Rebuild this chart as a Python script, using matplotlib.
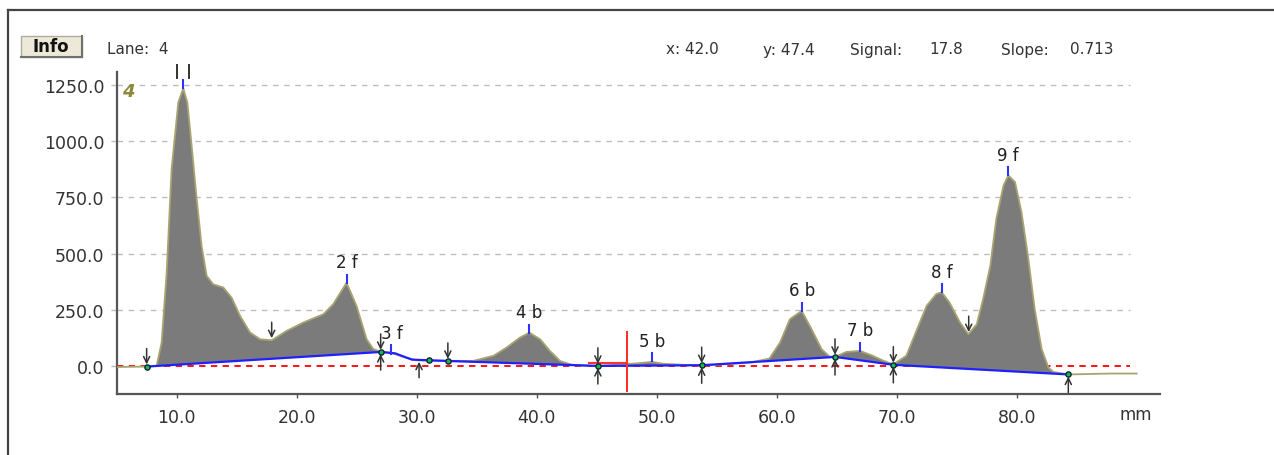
import numpy as np
import matplotlib.pyplot as plt
from matplotlib.patches import Rectangle
from matplotlib.lines import Line2D

plt.rcParams["font.family"] = ["DejaVu Sans"]

# lane 4 densitometry profile (mm, signal)
TRACE_MM = [4.9, 7.5, 8.33, 8.75, 9.17, 9.58, 10.14, 10.55, 10.89, 11.25, 11.67,
            12.08, 12.5, 13.05, 13.89, 14.58, 15.28, 16.11, 16.94, 17.92, 19.17,
            20.55, 22.22, 23.05, 24.16, 24.99, 25.83, 26.39, 27.03, 27.9, 28.9,
            30.0, 31.0, 32.6, 34.7, 36.4, 37.5, 38.6, 39.4, 40.3, 41.1, 41.95,
            43.05, 45.1, 47.5, 48.5, 49.6, 50.5, 52.2, 53.75, 55.0, 57.8, 59.4,
            60.28, 61.1, 62.08, 62.9, 63.75, 64.4, 64.86, 65.8, 66.94, 68.0,
            68.9, 69.72, 70.8, 71.7, 72.5, 73.3, 73.75, 74.4, 75.28, 75.97,
            76.67, 77.2, 77.8, 78.3, 78.9, 79.3, 79.86, 80.4, 80.97, 81.5,
            82.08, 82.64, 83.05, 84.3, 87.8, 90.0]
TRACE_VAL = [-5, -3, 0, 104, 416, 876, 1173, 1235, 1173, 980, 742,
             535, 401, 363, 349, 304, 223, 149, 119, 114, 156,
             193, 230, 275, 370, 267, 119, 75, 63, 58, 40,
             25, 24, 23, 22, 45, 82, 126, 148, 118, 67, 22,
             3, 0, 8, 12, 18, 10, 5, 2, 5, 15, 33,
             104, 208, 245, 164, 74, 42, 40, 62, 67, 45,
             23, 7, 45, 164, 268, 320, 328, 282, 193, 141,
             185, 297, 446, 654, 803, 848, 818, 684, 476, 253,
             75, -7, -27, -38, -34, -34]

# baseline (blue) and its anchor points
BASE_MM = [7.5, 27.0, 28.2, 29.6, 31.0, 32.6, 45.1, 53.75, 64.86, 69.72, 84.3]
BASE_VAL = [-3, 62, 56, 28, 25, 22, 0, 3, 40, 5, -38]
DOT_MM = [7.5, 27.0, 31.0, 32.6, 45.1, 53.75, 64.86, 69.72, 84.3]
DOT_VAL = [-3, 62, 25, 22, 0, 3, 40, 5, -38]

# lane boundary arrows
DOWN_MM = [7.5, 17.92, 27.0, 32.6, 45.1, 53.75, 64.86, 69.72, 76.0]
DOWN_VAL = [-3, 114, 62, 22, 0, 3, 40, 5, 141]
UP_MM = [27.0, 30.2, 45.1, 53.75, 64.86, 69.72, 84.3]
UP_VAL = [62, 28, 0, 3, 40, 5, -38]

# detected peaks
PEAK_MM = [10.55, 24.16, 27.9, 39.4, 49.6, 62.08, 66.94, 73.75, 79.3]
PEAK_VAL = [1235, 370, 55, 148, 20, 245, 67, 328, 848]
PEAK_LABELS = ["", "2 f", "3 f", "4 b", "5 b", "6 b", "7 b", "8 f", "9 f"]

X_TICKS = [10, 20, 30, 40, 50, 60, 70, 80]
Y_TICKS = [0, 250, 500, 750, 1000, 1250]
CURSOR_MM = 47.5

HEADER = [("Lane:  4", 107), ("x: 42.0", 666), ("y: 47.4", 763),
          ("Signal:", 850), ("17.8", 929), ("Slope:", 1001), ("0.713", 1070)]

W, H = 1274, 456
fig = plt.figure(figsize=(W / 100, H / 100), dpi=100)
fig.patch.set_facecolor("white")

# panel frame
fig.add_artist(Line2D([8 / W, 1], [1 - 11 / H, 1 - 11 / H], color="#444444", lw=1.6))
fig.add_artist(Line2D([8 / W, 8 / W], [0, 1 - 11 / H], color="#444444", lw=1.6))

# Info button
fig.add_artist(Rectangle((21 / W, 1 - 58 / H), 61 / W, 21 / H, transform=fig.transFigure,
                         fc="#ece9d8", ec="#b0ad9c", lw=1))
fig.add_artist(Line2D([21 / W, 82 / W], [1 - 58 / H, 1 - 58 / H], color="#707070", lw=1.5))
fig.add_artist(Line2D([82 / W, 82 / W], [1 - 58 / H, 1 - 37 / H], color="#707070", lw=1.5))
fig.text(51 / W, 1 - 47.5 / H, "Info", ha="center", va="center", fontsize=12,
         fontweight="bold", color="#111111")

for txt, px in HEADER:
    fig.text(px / W, 1 - 50 / H, txt, ha="left", va="center", fontsize=11, color="#333333")

ax = fig.add_axes([117 / W, 1 - 395 / H, (1160 - 117) / W, (395 - 73) / H])
xmin, xmax = 5.03, 91.94
ax.set_xlim(xmin, xmax)
ax.set_ylim(-125, 1308)

ax.hlines(Y_TICKS[1:], xmin, 89.4, colors="#bdbdbd", linestyles=(0, (4, 4)), lw=1)
ax.hlines(0, xmin, 89.4, colors="red", linestyles=(0, (3.5, 3)), lw=1.3, zorder=2)

# shaded area between profile and baseline
tx = np.array(TRACE_MM)
ty = np.array(TRACE_VAL)
sel = (tx >= BASE_MM[0]) & (tx <= BASE_MM[-1])
ax.fill(np.concatenate([tx[sel], BASE_MM[::-1]]),
        np.concatenate([ty[sel], BASE_VAL[::-1]]),
        color="#7b7b7b", lw=0, zorder=3)
ax.plot(TRACE_MM, TRACE_VAL, color="#a8a472", lw=1.3, zorder=4)
ax.plot(BASE_MM, BASE_VAL, color="#2020ff", lw=1.6, zorder=5)

# cursor
ax.plot([CURSOR_MM, CURSOR_MM], [-113, 150], color="#ff3030", lw=1.5, zorder=6)
ax.plot([44.4, CURSOR_MM], [15, 15], color="#ff3030", lw=1.5, zorder=4.5)

arrow_kw = dict(arrowstyle="->,head_length=0.45,head_width=0.22", color="#333333",
                lw=1.1, shrinkA=0, shrinkB=1.5)
for x, y in zip(DOWN_MM, DOWN_VAL):
    ax.annotate("", xy=(x, y), xytext=(0, 13), textcoords="offset points",
                arrowprops=arrow_kw, zorder=7)
for x, y in zip(UP_MM, UP_VAL):
    ax.annotate("", xy=(x, y), xytext=(0, -13), textcoords="offset points",
                arrowprops=arrow_kw, zorder=7)
ax.scatter(DOT_MM, DOT_VAL, s=14, color="#10c040", edgecolors="#102040", lw=1, zorder=8)

# peak marks and labels
for x, y, lab in zip(PEAK_MM, PEAK_VAL, PEAK_LABELS):
    ax.plot([x, x], [y, y + 36], color="#3030ff", lw=1.5, zorder=6)
    if lab:
        ax.annotate(lab, xy=(x, y + 36), xytext=(0, 2.5), textcoords="offset points",
                    ha="center", va="bottom", fontsize=12, color="#222222")

# tick marks above the first peak
for x in (10.0, 11.05):
    ax.plot([x, x], [1283, 1338], color="#333333", lw=1.4, clip_on=False)

ax.text(6.0, 1222, "4", color="#8a8a3a", fontsize=13, fontweight="bold",
        fontstyle="italic", ha="center", va="center")

for s in ("top", "right"):
    ax.spines[s].set_visible(False)
for s in ("left", "bottom"):
    ax.spines[s].set_color("#555555")
    ax.spines[s].set_linewidth(1.6)

ax.set_xticks(X_TICKS)
ax.set_xticklabels([f"{v:.1f}" for v in X_TICKS])
ax.set_yticks(Y_TICKS)
ax.set_yticklabels([f"{v:.1f}" for v in Y_TICKS])
ax.tick_params(axis="x", length=3, width=1, color="#555555", pad=7,
               labelsize=12.5, labelcolor="#333333")
ax.tick_params(axis="y", length=4, width=1, color="#bdbdbd", pad=5,
               labelsize=12.5, labelcolor="#333333")

fig.text(1136 / W, 1 - 415 / H, "mm", ha="center", va="center", fontsize=12, color="#333333")

fig.savefig("out.png", dpi=100)
